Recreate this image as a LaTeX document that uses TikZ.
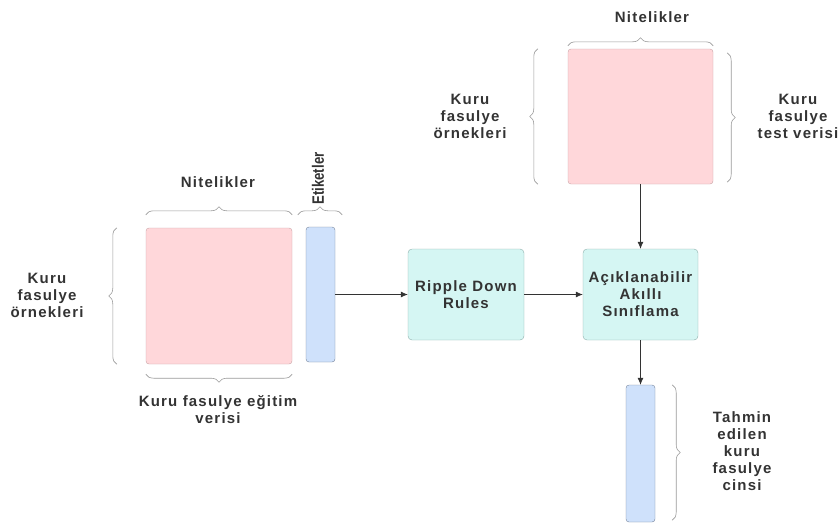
\documentclass[tikz,border=0pt]{standalone}
\usepackage{fontspec}
\setmainfont{Liberation Sans}[LetterSpace=8]
\newfontfamily\narrowfont{Liberation Sans}[FakeStretch=0.8]
\usetikzlibrary{arrows.meta,decorations.pathreplacing}

\definecolor{matpink}{HTML}{FFD7DA}
\definecolor{matpinkline}{HTML}{C9A3A6}
\definecolor{barblue}{HTML}{CFE1FB}
\definecolor{barblueline}{HTML}{76839A}
\definecolor{boxcyan}{HTML}{D5F6F3}
\definecolor{boxcyanline}{HTML}{8DAEAB}
\definecolor{txtgray}{HTML}{333333}
\definecolor{bracegray}{HTML}{9A9A9A}

\begin{document}
\begin{tikzpicture}[x=1pt,y=-1pt,>={Latex[length=7pt,width=6pt]},
    lbl/.style={font=\bfseries\fontsize{15}{17}\selectfont,text=txtgray,align=center,inner sep=0pt},
    mat/.style={draw=matpinkline,fill=matpink,rounded corners=3pt,inner sep=0pt},
    bar/.style={draw=barblueline,fill=barblue,rounded corners=3pt,inner sep=0pt},
    proc/.style={draw=boxcyanline,fill=boxcyan,rounded corners=4pt,inner sep=0pt,
        font=\bfseries\fontsize{15}{17}\selectfont,text=txtgray,align=center},
    brc/.style={draw=bracegray,line width=0.6pt,decorate,decoration={brace,amplitude=8pt}},
    conn/.style={draw=txtgray,line width=0.7pt,->}]
	\useasboundingbox (0,0) rectangle (840,523);
	% training data
	\node [mat, minimum width=146pt, minimum height=136pt] (n1) at (219,296) {};
	\node [bar, minimum width=29pt, minimum height=135pt] (n2) at (320.5,294.5) {};
	\node [lbl] (n0) at (218,182) {Nitelikler};
	\node [lbl, font=\narrowfont\bfseries\fontsize{16.5}{18}\selectfont, rotate=90] (n3) at (318,178.5) {Etiketler};
	\node [lbl] (n4) at (47,295) {Kuru\\fasulye\\örnekleri};
	\node [lbl] (n5) at (218,410) {Kuru fasulye eğitim\\verisi};
	% model
	\node [proc, minimum width=116pt, minimum height=91pt] (n6) at (466,294.5) {Ripple Down\\Rules};
	\node [proc, minimum width=115pt, minimum height=91pt] (n7) at (640.5,294.5) {Açıklanabilir\\Akıllı\\Sınıflama};
	% test data
	\node [mat, minimum width=145pt, minimum height=135pt] (n8) at (640.5,116.5) {};
	\node [lbl] (n9) at (652,17) {Nitelikler};
	\node [lbl] (n10) at (470,116) {Kuru\\fasulye\\örnekleri};
	\node [lbl] (n11) at (798,116) {Kuru\\fasulye\\test verisi};
	% prediction
	\node [bar, minimum width=29pt, minimum height=137pt] (n12) at (640.5,453.5) {};
	\node [lbl] (n13) at (742,451) {Tahmin\\edilen\\kuru\\fasulye\\cinsi};
	\draw [conn] (n2) -- (n6);
	\draw [conn] (n6) -- (n7);
	\draw [conn] (n8) -- (n7);
	\draw [conn] (n7) -- (n12);
	\draw [brc] ([yshift=13pt]n1.north west) -- ([yshift=13pt]n1.north east);
	\draw [brc] ([xshift=-29pt]n1.south west) -- ([xshift=-29pt]n1.north west);
	\draw [brc] ([yshift=-10pt]n1.south east) -- ([yshift=-10pt]n1.south west);
	\draw [brc] ([xshift=-8pt,yshift=12pt]n2.north west) -- ([xshift=7pt,yshift=12pt]n2.north east);
	\draw [brc] ([yshift=3pt]n8.north west) -- ([yshift=3pt]n8.north east);
	\draw [brc] ([xshift=-30pt]n8.south west) -- ([xshift=-30pt]n8.north west);
	\draw [brc] ([xshift=14pt,yshift=-4pt]n8.north east) -- ([xshift=14pt,yshift=2pt]n8.south east);
	\draw [brc] ([xshift=17pt]n12.north east) -- ([xshift=17pt,yshift=2pt]n12.south east);
\end{tikzpicture}
\end{document}
